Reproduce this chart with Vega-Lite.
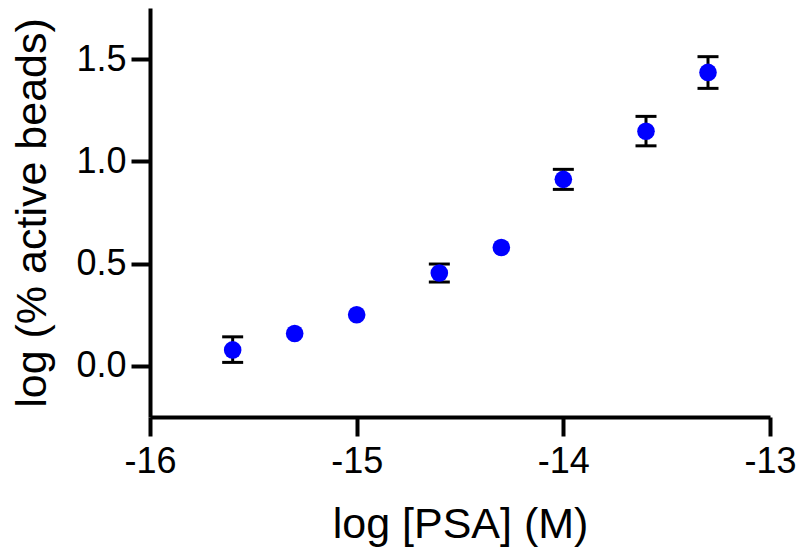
{
  "$schema": "https://vega.github.io/schema/vega-lite/v6.json",
  "width": 620,
  "height": 409,
  "autosize": {"type": "none"},
  "padding": {"left": 150, "top": 8, "right": 30, "bottom": 135},
  "background": "white",
  "config": {
    "view": {"stroke": null},
    "font": "Liberation Sans"
  },
  "data": {
    "values": [
      {"logPSA": -15.6, "val": 0.078, "lo": 0.017, "hi": 0.142},
      {"logPSA": -15.3, "val": 0.158},
      {"logPSA": -15.0, "val": 0.25},
      {"logPSA": -14.6, "val": 0.454, "lo": 0.41, "hi": 0.498},
      {"logPSA": -14.3, "val": 0.579},
      {"logPSA": -14.0, "val": 0.912, "lo": 0.863, "hi": 0.961},
      {"logPSA": -13.6, "val": 1.147, "lo": 1.076, "hi": 1.22},
      {"logPSA": -13.3, "val": 1.435, "lo": 1.357, "hi": 1.512}
    ]
  },
  "encoding": {
    "x": {
      "field": "logPSA", "type": "quantitative",
      "scale": {"domain": [-16, -13], "nice": false, "zero": false},
      "axis": {
        "title": "log [PSA] (M)", "values": [-16, -15, -14, -13],
        "labelExpr": "datum.value < 0 ? '-' + abs(datum.value) : '' + datum.value",
        "grid": false, "domainColor": "black", "domainWidth": 4, "tickColor": "black",
        "tickWidth": 4, "tickSize": 19, "labelFontSize": 36, "labelColor": "black",
        "labelPadding": 8, "labelFlush": false, "labelOverlap": false, "titleFontSize": 43, "titleFontWeight": "normal",
        "titleColor": "black", "titlePadding": 24, "labelFont": "Liberation Sans", "titleFont": "Liberation Sans"
      }
    }
  },
  "layer": [
    {
      "mark": {"type": "rule", "color": "black", "strokeWidth": 3, "opacity": 1},
      "encoding": {
        "y": {
          "field": "lo", "type": "quantitative",
          "scale": {"domain": [-0.25, 1.75], "nice": false, "zero": false},
          "axis": {
            "title": "log (% active beads)", "values": [0, 0.5, 1.0, 1.5], "format": ".1f",
            "grid": false, "domainColor": "black", "domainWidth": 4, "tickColor": "black",
            "tickWidth": 4, "tickSize": 19, "labelFontSize": 36, "labelColor": "black",
            "labelPadding": 5, "labelFlush": false, "labelOverlap": false, "titleFontSize": 43, "titleFontWeight": "normal",
            "titleColor": "black", "titlePadding": 21, "labelFont": "Liberation Sans", "titleFont": "Liberation Sans"
          }
        },
        "y2": {"field": "hi"}
      }
    },
    {
      "mark": {"type": "tick", "orient": "horizontal", "color": "black", "size": 21, "thickness": 3, "opacity": 1},
      "encoding": {"y": {"field": "lo", "type": "quantitative"}}
    },
    {
      "mark": {"type": "tick", "orient": "horizontal", "color": "black", "size": 21, "thickness": 3, "opacity": 1},
      "encoding": {"y": {"field": "hi", "type": "quantitative"}}
    },
    {
      "mark": {"type": "point", "shape": "circle", "filled": true, "color": "#0000FF", "opacity": 1, "size": 310},
      "encoding": {"y": {"field": "val", "type": "quantitative"}}
    }
  ]
}
